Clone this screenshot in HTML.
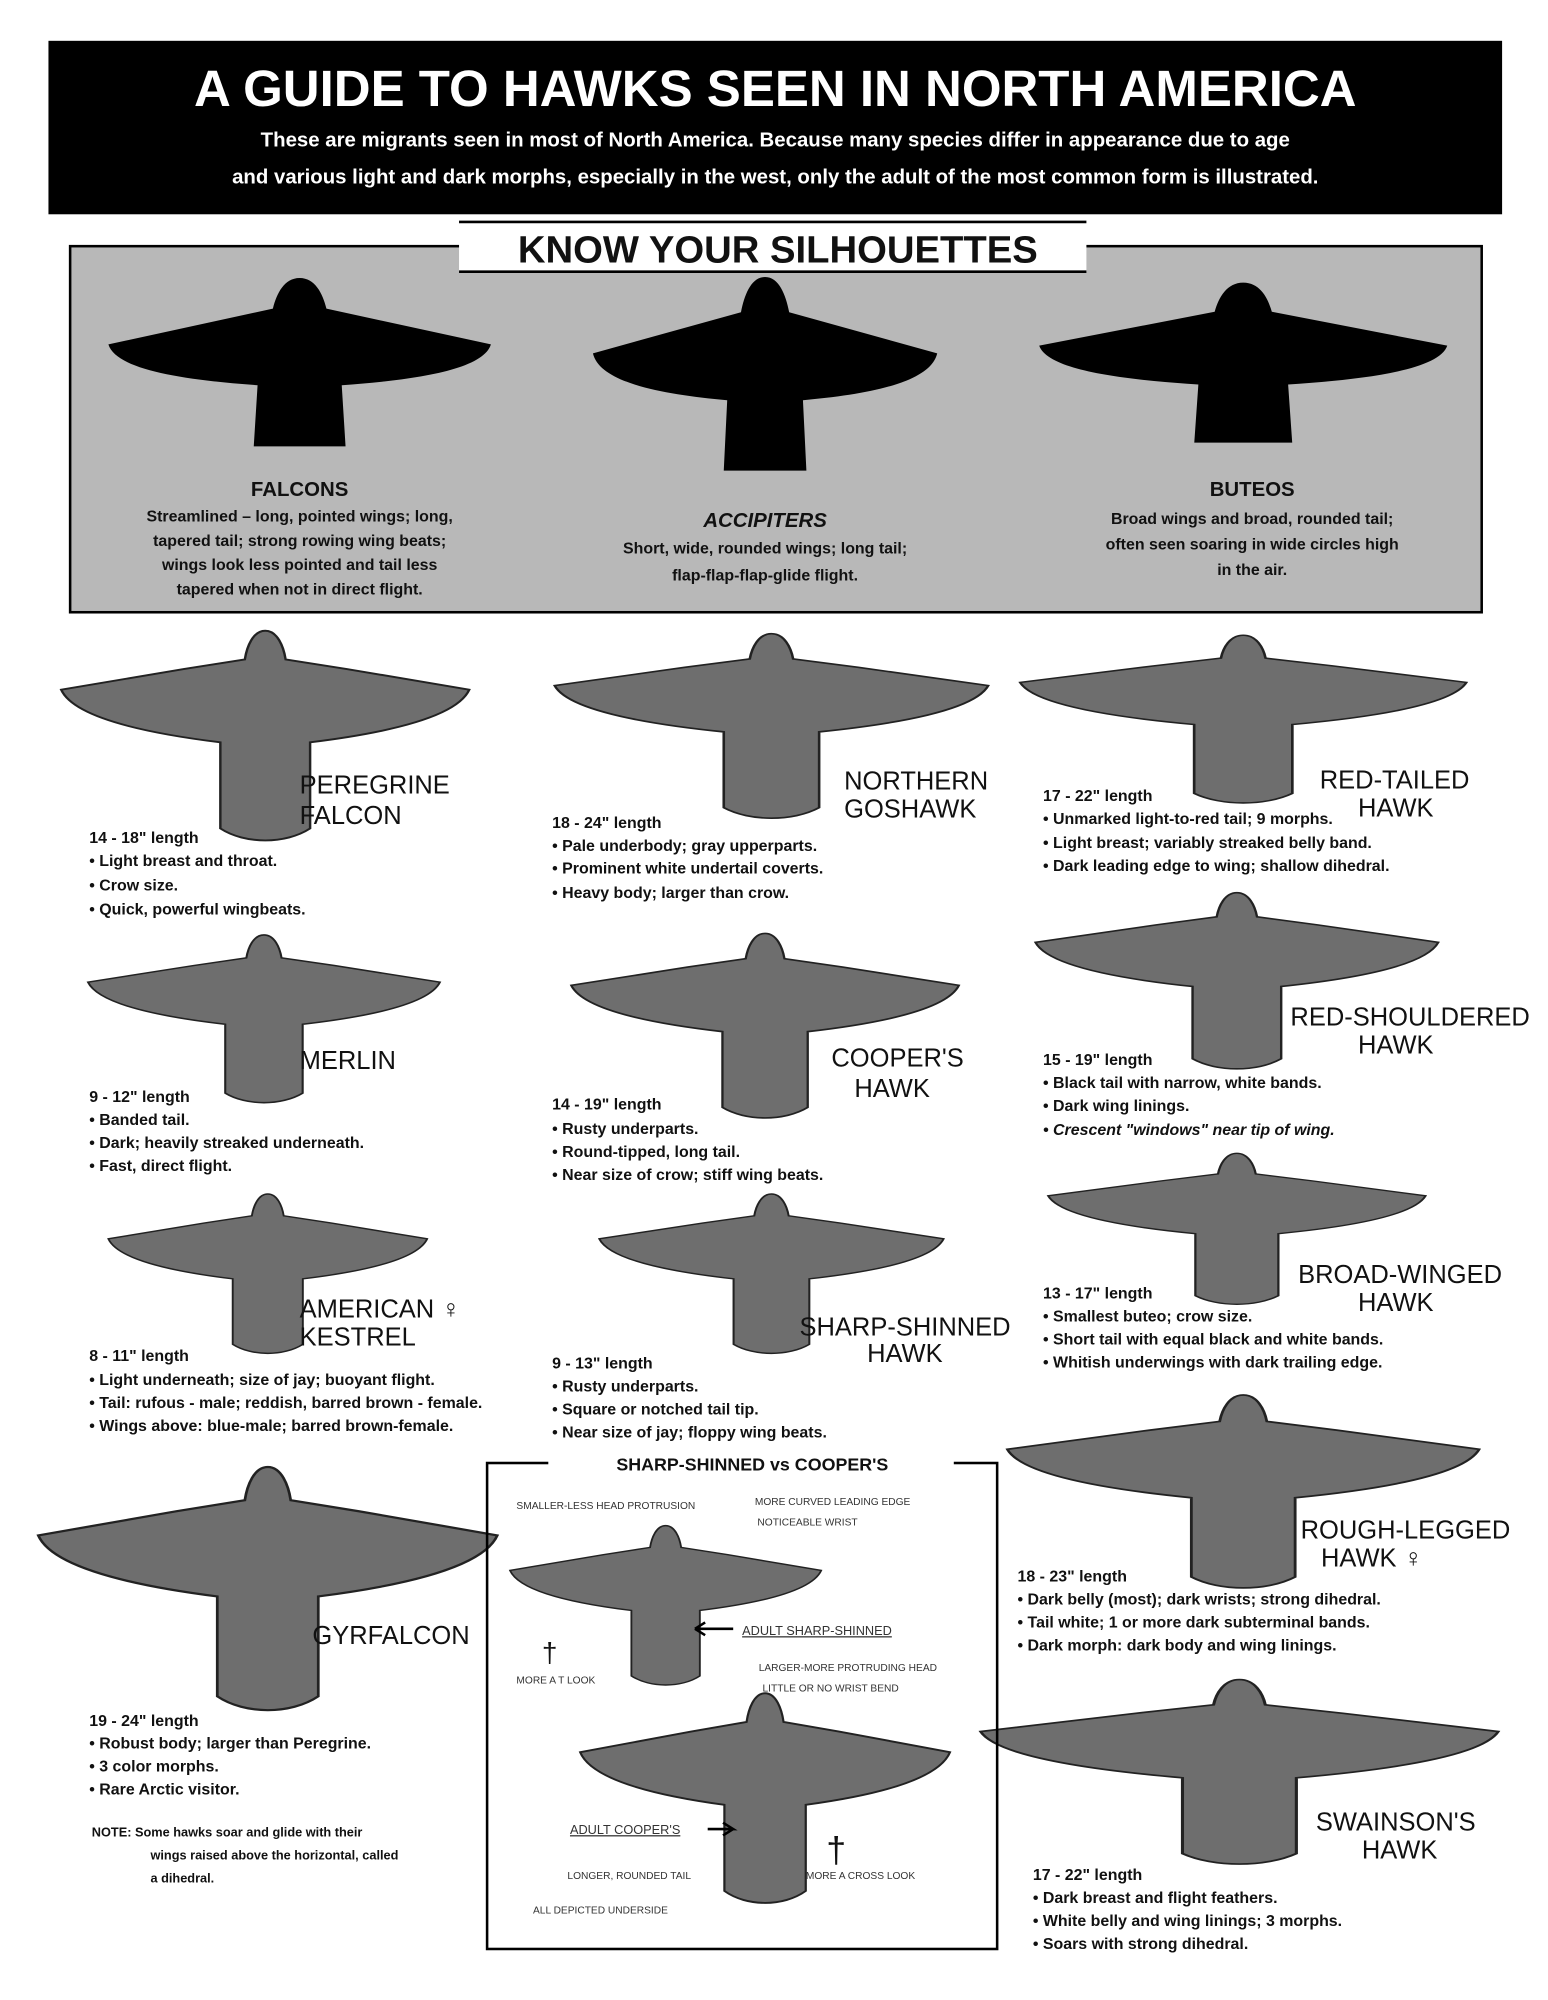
<!DOCTYPE html>
<html><head><meta charset="utf-8"><style>
html,body{margin:0;padding:0;background:#fff}
svg{display:block}
text{font-family:"Liberation Sans",sans-serif}
.t{font-size:12.5px;font-weight:bold;fill:#111}
.n{font-size:20px;fill:#111;font-family:"Liberation Sans Narrow","Liberation Sans",sans-serif}
.h{font-size:14px;font-weight:bold;fill:#111}
.s{font-size:8px;fill:#333}
</style></head><body>
<svg width="1548" height="2000" viewBox="0 0 1214 1568" preserveAspectRatio="none" xmlns="http://www.w3.org/2000/svg">
<defs>
<path id="bird" d="M0,-62 C6,-62 9,-52 10,-44 L40,-38 L100,-25 C94,-8 60,2 22,8 L22,62 C10,72 -10,72 -22,62 L-22,8 C-60,2 -94,-8 -100,-25 L-40,-38 L-10,-44 C-9,-52 -6,-62 0,-62Z"/>
<path id="sil" d="M0,-72 C8,-72 12,-60 14,-48 L100,-20 C96,0 60,8 22,12 L24,60 L-24,60 L-22,12 C-60,8 -96,0 -100,-20 L-14,-48 C-12,-60 -8,-72 0,-72Z"/>
</defs>
<rect width="1214" height="1568" fill="#fff"/>
<rect x="38" y="32" width="1140" height="136" fill="#000"/>
<text x="608" y="83" text-anchor="middle" fill="#fff" font-size="40" font-weight="bold">A GUIDE TO HAWKS SEEN IN NORTH AMERICA</text>
<text x="608" y="115" text-anchor="middle" fill="#fff" font-size="16" font-weight="bold">These are migrants seen in most of North America. Because many species differ in appearance due to age</text>
<text x="608" y="144" text-anchor="middle" fill="#fff" font-size="16" font-weight="bold">and various light and dark morphs, especially in the west, only the adult of the most common form is illustrated.</text>
<rect x="55" y="193" width="1107" height="287" fill="#b8b8b8" stroke="#000" stroke-width="2"/>
<rect x="360" y="173" width="492" height="40" fill="#fff"/>
<line x1="360" y1="174" x2="852" y2="174" stroke="#000" stroke-width="2"/>
<line x1="360" y1="213" x2="852" y2="213" stroke="#000" stroke-width="2"/>
<text x="610" y="206" text-anchor="middle" font-size="30" font-weight="bold" fill="#111">KNOW YOUR SILHOUETTES</text>
<use href="#sil" transform="translate(235,290) scale(1.5,1.0)" fill="#000"/>
<use href="#sil" transform="translate(600,300) scale(1.35,1.15)" fill="#000"/>
<use href="#sil" transform="translate(975,290) scale(1.6,0.95)" fill="#000"/>
<g class="t" text-anchor="middle" font-size="15">
<text x="235" y="389" font-size="16">FALCONS</text>
<text x="235" y="409">Streamlined – long, pointed wings; long,</text>
<text x="235" y="428">tapered tail; strong rowing wing beats;</text>
<text x="235" y="447">wings look less pointed and tail less</text>
<text x="235" y="466">tapered when not in direct flight.</text>
<text x="600" y="413" font-size="16" font-style="italic">ACCIPITERS</text>
<text x="600" y="434">Short, wide, rounded wings; long tail;</text>
<text x="600" y="455">flap-flap-flap-glide flight.</text>
<text x="982" y="389" font-size="16">BUTEOS</text>
<text x="982" y="411">Broad wings and broad, rounded tail;</text>
<text x="982" y="431">often seen soaring in wide circles high</text>
<text x="982" y="451">in the air.</text>
</g>
<g fill="#6e6e6e" stroke="#222" stroke-width="1.2">
<use href="#bird" transform="translate(208,572) scale(1.6,1.25)"/>
<use href="#bird" transform="translate(207,795) scale(1.38,1.0)"/>
<use href="#bird" transform="translate(210,995) scale(1.25,0.95)"/>
<use href="#bird" transform="translate(210,1240) scale(1.8,1.45)"/>
<use href="#bird" transform="translate(605,565) scale(1.7,1.1)"/>
<use href="#bird" transform="translate(600,800) scale(1.52,1.1)"/>
<use href="#bird" transform="translate(605,995) scale(1.35,0.95)"/>
<use href="#bird" transform="translate(975,560) scale(1.75,1.0)"/>
<use href="#bird" transform="translate(970,765) scale(1.58,1.05)"/>
<use href="#bird" transform="translate(970,960) scale(1.48,0.9)"/>
<use href="#bird" transform="translate(975,1165) scale(1.85,1.15)"/>
<use href="#bird" transform="translate(972,1385) scale(2.03,1.1)"/>
<use href="#bird" transform="translate(522,1255) scale(1.22,0.95)"/>
<use href="#bird" transform="translate(600,1405) scale(1.45,1.25)"/>
</g>
<g class="n">
<text x="235" y="622">PEREGRINE</text><text x="235" y="646">FALCON</text>
<text x="235" y="838">MERLIN</text>
<text x="235" y="1033">AMERICAN ♀</text><text x="235" y="1055">KESTREL</text>
<text x="245" y="1289">GYRFALCON</text>
<text x="662" y="619">NORTHERN</text><text x="662" y="641">GOSHAWK</text>
<text x="652" y="836">COOPER'S</text><text x="670" y="860">HAWK</text>
<text x="627" y="1047">SHARP-SHINNED</text><text x="680" y="1068">HAWK</text>
<text x="1035" y="618">RED-TAILED</text><text x="1065" y="640">HAWK</text>
<text x="1012" y="804">RED-SHOULDERED</text><text x="1065" y="826">HAWK</text>
<text x="1018" y="1006">BROAD-WINGED</text><text x="1065" y="1028">HAWK</text>
<text x="1020" y="1206">ROUGH-LEGGED</text><text x="1036" y="1228">HAWK ♀</text>
<text x="1032" y="1435">SWAINSON'S</text><text x="1068" y="1457">HAWK</text>
</g>
<g class="t">
<text x="70" y="661">14 - 18" length</text><text x="70" y="679">• Light breast and throat.</text><text x="70" y="698">• Crow size.</text><text x="70" y="717">• Quick, powerful wingbeats.</text>
<text x="70" y="864">9 - 12" length</text><text x="70" y="882">• Banded tail.</text><text x="70" y="900">• Dark; heavily streaked underneath.</text><text x="70" y="918">• Fast, direct flight.</text>
<text x="70" y="1067">8 - 11" length</text><text x="70" y="1086">• Light underneath; size of jay; buoyant flight.</text><text x="70" y="1104">• Tail: rufous - male; reddish, barred brown - female.</text><text x="70" y="1122">• Wings above: blue-male; barred brown-female.</text>
<text x="70" y="1353">19 - 24" length</text><text x="70" y="1371">• Robust body; larger than Peregrine.</text><text x="70" y="1389">• 3 color morphs.</text><text x="70" y="1407">• Rare Arctic visitor.</text>
<text x="72" y="1440" font-size="10">NOTE: Some hawks soar and glide with their</text><text x="118" y="1458" font-size="10">wings raised above the horizontal, called</text><text x="118" y="1476" font-size="10">a dihedral.</text>
<text x="433" y="649">18 - 24" length</text><text x="433" y="667">• Pale underbody; gray upperparts.</text><text x="433" y="685">• Prominent white undertail coverts.</text><text x="433" y="704">• Heavy body; larger than crow.</text>
<text x="433" y="870">14 - 19" length</text><text x="433" y="889">• Rusty underparts.</text><text x="433" y="907">• Round-tipped, long tail.</text><text x="433" y="925">• Near size of crow; stiff wing beats.</text>
<text x="433" y="1073">9 - 13" length</text><text x="433" y="1091">• Rusty underparts.</text><text x="433" y="1109">• Square or notched tail tip.</text><text x="433" y="1127">• Near size of jay; floppy wing beats.</text>
<text x="818" y="628">17 - 22" length</text><text x="818" y="646">• Unmarked light-to-red tail; 9 morphs.</text><text x="818" y="665">• Light breast; variably streaked belly band.</text><text x="818" y="683">• Dark leading edge to wing; shallow dihedral.</text>
<text x="818" y="835">15 - 19" length</text><text x="818" y="853">• Black tail with narrow, white bands.</text><text x="818" y="871">• Dark wing linings.</text><text x="818" y="890" font-style="italic">• Crescent "windows" near tip of wing.</text>
<text x="818" y="1018">13 - 17" length</text><text x="818" y="1036">• Smallest buteo; crow size.</text><text x="818" y="1054">• Short tail with equal black and white bands.</text><text x="818" y="1072">• Whitish underwings with dark trailing edge.</text>
<text x="798" y="1240">18 - 23" length</text><text x="798" y="1258">• Dark belly (most); dark wrists; strong dihedral.</text><text x="798" y="1276">• Tail white; 1 or more dark subterminal bands.</text><text x="798" y="1294">• Dark morph: dark body and wing linings.</text>
<text x="810" y="1474">17 - 22" length</text><text x="810" y="1492">• Dark breast and flight feathers.</text><text x="810" y="1510">• White belly and wing linings; 3 morphs.</text><text x="810" y="1528">• Soars with strong dihedral.</text>
</g>
<rect x="382" y="1147" width="400" height="381" fill="none" stroke="#000" stroke-width="2"/>
<rect x="430" y="1137" width="318" height="20" fill="#fff"/>
<text x="590" y="1153" text-anchor="middle" class="h">SHARP-SHINNED vs COOPER'S</text>
<g class="s">
<text x="405" y="1183">SMALLER-LESS HEAD PROTRUSION</text><text x="592" y="1180">MORE CURVED LEADING EDGE</text><text x="594" y="1196">NOTICEABLE WRIST</text>
<text x="582" y="1282" font-size="10" text-decoration="underline">ADULT SHARP-SHINNED</text>
<text x="405" y="1320">MORE A T LOOK</text>
<text x="595" y="1310">LARGER-MORE PROTRUDING HEAD</text><text x="598" y="1326">LITTLE OR NO WRIST BEND</text>
<text x="447" y="1438" font-size="10" text-decoration="underline">ADULT COOPER'S</text>
<text x="445" y="1473">LONGER, ROUNDED TAIL</text><text x="632" y="1473">MORE A CROSS LOOK</text>
<text x="418" y="1500">ALL DEPICTED UNDERSIDE</text>
</g>
<text x="425" y="1303" font-size="22" fill="#111">†</text>
<text x="648" y="1460" font-size="28" fill="#111">†</text>
<path d="M545,1277 L575,1277 M545,1277 l8,-5 m-8,5 l8,5" stroke="#000" stroke-width="2"/>
<path d="M555,1434 L575,1434 l-8,-5 m8,5 l-8,5" stroke="#000" stroke-width="2" fill="none"/>
</svg>
</body></html>
